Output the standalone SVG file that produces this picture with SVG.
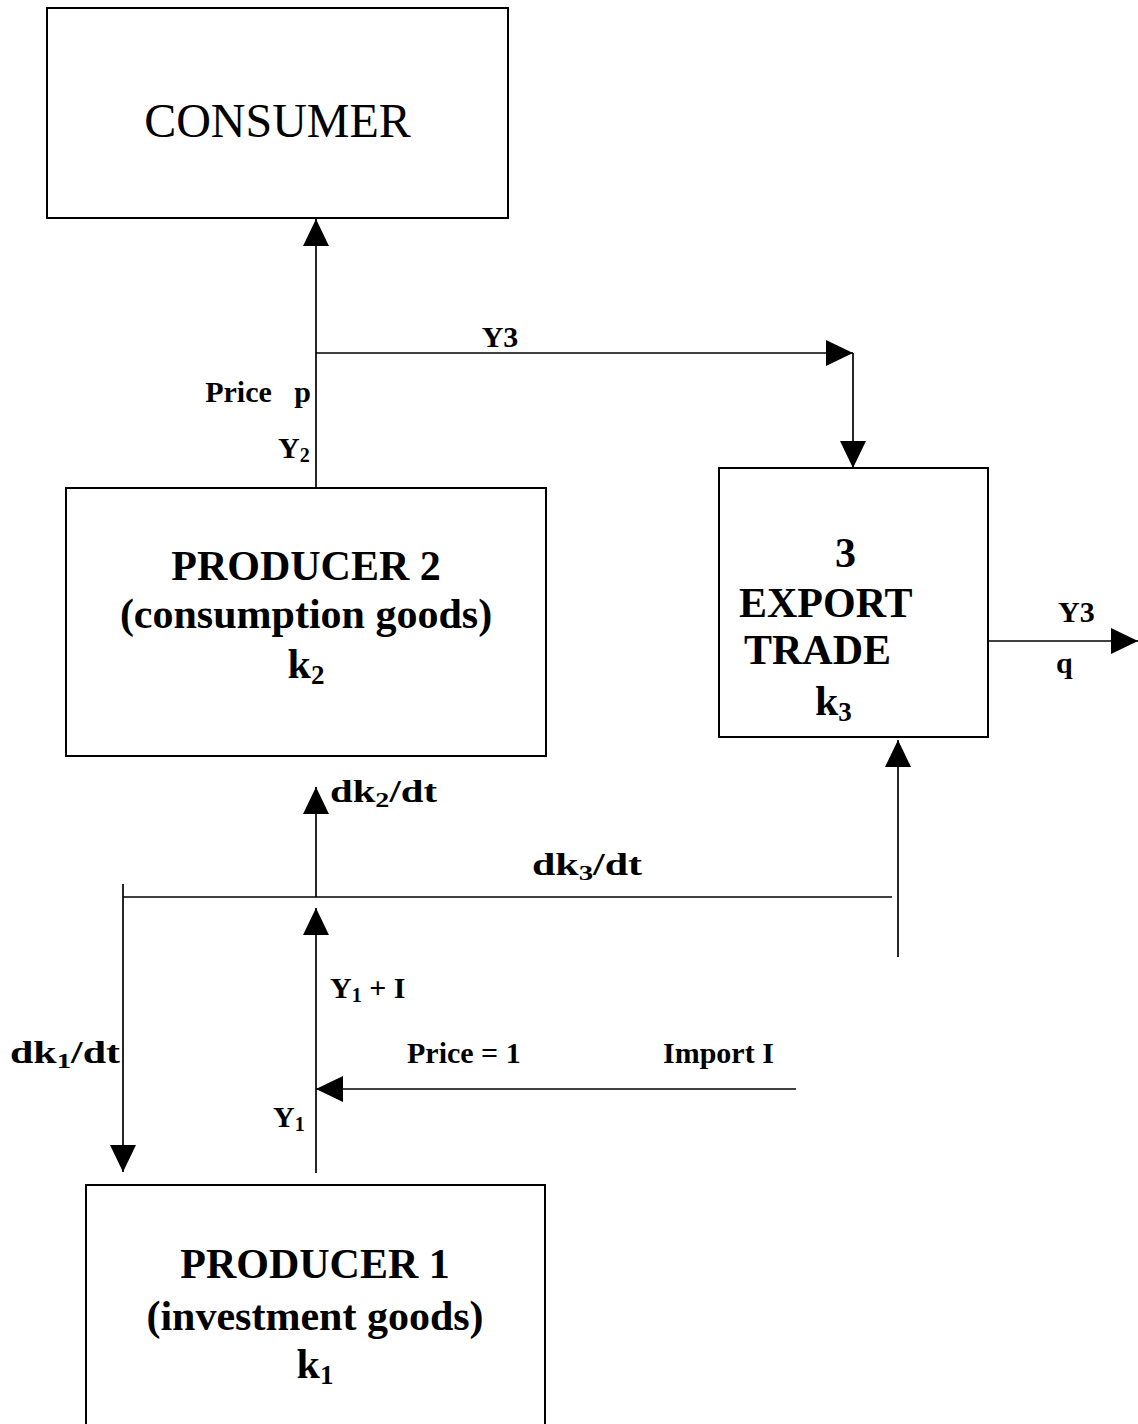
<svg xmlns="http://www.w3.org/2000/svg" width="1138" height="1424" viewBox="0 0 1138 1424">
<style>
.box{fill:#fff;stroke:#000;stroke-width:2}
.ln{fill:none;stroke:#000;stroke-width:1.7}
.arr{marker-end:url(#ah)}
.t{font-family:"Liberation Serif","Times New Roman",serif;fill:#000}
.b{font-weight:bold}
.big{font-size:42px}
.sm{font-size:30px}
.dk{font-size:32px}
</style>
<defs>
<marker id="ah" markerUnits="userSpaceOnUse" markerWidth="27" markerHeight="26" viewBox="0 0 26 25" refX="26" refY="12.5" orient="auto">
<path d="M0,0 L26,12.5 L0,25 Z" fill="#000"/>
</marker>
</defs>
<rect width="1138" height="1424" fill="#fff"/>

<g id="consumer">
<rect class="box" x="47" y="8" width="461" height="210"/>
<text class="t" x="277.5" y="137" font-size="48" text-anchor="middle">CONSUMER</text>
</g>

<g id="producer2">
<rect class="box" x="66" y="488" width="480" height="268"/>
<text class="t b big" x="306" y="580" text-anchor="middle">PRODUCER 2</text>
<text class="t b big" x="306" y="628" text-anchor="middle">(consumption goods)</text>
<text class="t b big" x="306" y="678" text-anchor="middle">k<tspan font-size="27" dy="6">2</tspan></text>
</g>

<g id="export">
<rect class="box" x="719" y="468" width="269" height="269"/>
<text class="t b big" x="835" y="567">3</text>
<text class="t b big" x="739" y="617">EXPORT</text>
<text class="t b big" x="744" y="664">TRADE</text>
<text class="t b big" x="815" y="715">k<tspan font-size="27" dy="6">3</tspan></text>
</g>

<g id="producer1">
<rect class="box" x="86" y="1185" width="459" height="260"/>
<text class="t b big" x="315" y="1278" text-anchor="middle">PRODUCER 1</text>
<text class="t b big" x="315" y="1330" text-anchor="middle">(investment goods)</text>
<text class="t b big" x="315" y="1378" text-anchor="middle">k<tspan font-size="27" dy="6">1</tspan></text>
</g>

<g id="connectors">
<line class="ln arr" x1="316" y1="488" x2="316" y2="219"/>
<line class="ln arr" x1="316" y1="353" x2="853" y2="353"/>
<line class="ln arr" x1="853" y1="353" x2="853" y2="468"/>
<line class="ln arr" x1="988" y1="641" x2="1138" y2="641"/>
<line class="ln arr" x1="898" y1="957" x2="898" y2="740"/>
<line class="ln" x1="123" y1="897" x2="892" y2="897"/>
<line class="ln arr" x1="123" y1="884" x2="123" y2="1172"/>
<line class="ln arr" x1="316" y1="897" x2="316" y2="787"/>
<line class="ln arr" x1="316" y1="1173" x2="316" y2="908"/>
<line class="ln arr" x1="796" y1="1089" x2="316" y2="1089"/>
</g>

<g id="labels">
<text class="t b sm" x="500" y="347" text-anchor="middle">Y3</text>
<text class="t b sm" x="311" y="402" text-anchor="end" xml:space="preserve">Price   p</text>
<text class="t b sm" x="278" y="458">Y<tspan font-size="20" dy="4">2</tspan></text>
<text class="t b sm" x="1058" y="622">Y3</text>
<text class="t b sm" x="1056" y="673">q</text>
<text class="t b dk" x="330" y="802" textLength="107" lengthAdjust="spacingAndGlyphs">dk<tspan font-size="22" dy="5">2</tspan><tspan dy="-5">/dt</tspan></text>
<text class="t b dk" x="532" y="875" textLength="110" lengthAdjust="spacingAndGlyphs">dk<tspan font-size="22" dy="5">3</tspan><tspan dy="-5">/dt</tspan></text>
<text class="t b dk" x="10" y="1063" textLength="110" lengthAdjust="spacingAndGlyphs">dk<tspan font-size="22" dy="5">1</tspan><tspan dy="-5">/dt</tspan></text>
<text class="t b sm" x="330" y="998">Y<tspan font-size="20" dy="4">1</tspan><tspan dy="-4"> + I</tspan></text>
<text class="t b sm" x="407" y="1063">Price = 1</text>
<text class="t b sm" x="663" y="1063">Import I</text>
<text class="t b sm" x="273" y="1127">Y<tspan font-size="20" dy="4">1</tspan></text>
</g>
</svg>
